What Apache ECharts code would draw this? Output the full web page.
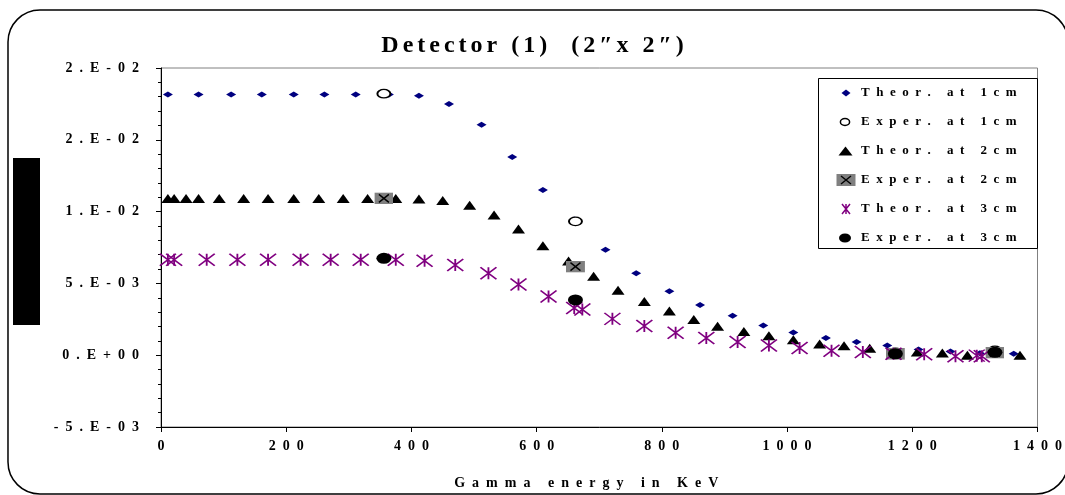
<!DOCTYPE html>
<html>
<head>
<meta charset="utf-8">
<script src="https://cdn.jsdelivr.net/npm/echarts@6/dist/echarts.min.js"></script>
<style>
html,body{margin:0;padding:0;background:#fff;}
#chart{width:1065px;height:495px;}
</style>
</head>
<body>
<div id="chart"></div>
<script>
// ---- data ----
const xTickLabels = ['0','200','400','600','800','1000','1200','1400'];
const yTickLabels = ['-5.E-03','0.E+00','5.E-03','1.E-02','2.E-02','2.E-02'];

const energyTheor1 = [11,60,112,161,212,261,311,364,412,460,512,561,610,660,710,759,812,861,913,962,1010,1062,1111,1160,1210,1261,1308,1362];
const theor1 = [0.01816,0.01816,0.01816,0.01816,0.01816,0.01816,0.01816,0.01816,0.01807,0.01749,0.01604,0.01380,0.01151,0.00945,0.00735,0.00571,0.00446,0.00349,0.00274,0.00207,0.00158,0.00119,0.00092,0.00068,0.00040,0.00026,0.00014,0.00010];

const energyTheor2 = [11,21,40,60,93,132,171,212,252,291,330,375,412,450,493,532,571,610,651,691,730,772,812,851,889,931,971,1010,1052,1091,1132,1208,1248,1288,1372];
const theor2 = [0.01092,0.01092,0.01092,0.01092,0.01092,0.01092,0.01092,0.01092,0.01092,0.01092,0.01092,0.01092,0.01087,0.01078,0.01045,0.00976,0.00878,0.00762,0.00656,0.00550,0.00453,0.00374,0.00307,0.00249,0.00201,0.00165,0.00135,0.00108,0.00078,0.00066,0.00049,0.00022,0.00015,0.00000,0.00000];

const energyTheor3 = [11,21,73,122,171,223,271,319,375,421,470,523,571,619,660,673,721,772,822,871,921,971,1020,1071,1121,1170,1219,1269,1303,1311];
const theor3 = [0.00665,0.00665,0.00665,0.00665,0.00665,0.00665,0.00665,0.00665,0.00665,0.00658,0.00628,0.00571,0.00492,0.00408,0.00328,0.00318,0.00253,0.00203,0.00156,0.00119,0.00092,0.00068,0.00050,0.00031,0.00022,0.00010,0.00006,-0.00008,-0.00003,-0.00007];

const energyExper = [356,662,1173,1332];
const exper1 = [0.01821,0.00932,0.00020,0.00033];
const exper2 = [0.01092,0.00617,0.00010,0.00018];
const exper3 = [0.00675,0.00385,0.00010,0.00020];

const seriesNames = ['Theor. at 1cm','Exper. at 1cm','Theor. at 2cm','Exper. at 2cm','Theor. at 3cm','Exper. at 3cm'];
const titleText = 'Detector (1)  (2\u2033x 2\u2033)';
const xAxisTitle = 'Gamma energy in KeV';

// ---- helpers ----
const pairs = (xs, ys) => xs.map((x, i) => [x, ys[i]]);
const spaced = (s, gap) => s.split('').join(gap || '\u2002');
const svg = s => 'image://data:image/svg+xml;charset=utf-8,' + encodeURIComponent(s);
const NS = "xmlns='http://www.w3.org/2000/svg'";

const xBoxSymbol = svg(`<svg ${NS} width='19' height='12' viewBox='0 0 19 12'><rect x='0' y='0' width='19' height='12' fill='#808080'/><path d='M4.5 2L14.5 10M14.5 2L4.5 10' stroke='#000' stroke-width='1.4' fill='none'/></svg>`);
const asteriskPath = 'path://M0,0L16,12M16,0L0,12M8,0L8,12';

const legendIcons = [
  svg(`<svg ${NS} width='20' height='12' viewBox='0 0 20 12'><polygon points='5.5,6 10,2.5 14.5,6 10,9.5' fill='#000080'/></svg>`),
  svg(`<svg ${NS} width='20' height='12' viewBox='0 0 20 12'><ellipse cx='9' cy='6' rx='4.6' ry='3.4' fill='#fff' stroke='#000' stroke-width='1.5'/></svg>`),
  svg(`<svg ${NS} width='20' height='12' viewBox='0 0 20 12'><polygon points='2.5,10.5 9.5,1.5 16.5,10.5' fill='#000'/></svg>`),
  svg(`<svg ${NS} width='20' height='12' viewBox='0 0 20 12'><rect x='0.5' y='0' width='19' height='12' fill='#808080'/><path d='M5 2L15 10M15 2L5 10' stroke='#000' stroke-width='1.4' fill='none'/></svg>`),
  svg(`<svg ${NS} width='20' height='12' viewBox='0 0 20 12'><path d='M6 1L14 11M14 1L6 11M10 1L10 11' stroke='#800080' stroke-width='1.5' fill='none'/></svg>`),
  svg(`<svg ${NS} width='20' height='12' viewBox='0 0 20 12'><ellipse cx='9' cy='6' rx='6' ry='4.5' fill='#000'/></svg>`)
];

const FONT = "'Liberation Serif','Times New Roman',serif";

const chart = echarts.init(document.getElementById('chart'), null, {renderer: 'canvas'});
chart.setOption({
  animation: false,
  backgroundColor: '#fff',
  title: {
    text: spaced(titleText, '\u2006'),
    left: 'center',
    top: 29,
    textStyle: {fontFamily: FONT, fontWeight: 'bold', fontSize: 24, color: '#000'}
  },
  grid: {
    left: 161, top: 68, width: 885, height: 361,
    show: true, borderColor: '#808080', borderWidth: 1, backgroundColor: 'transparent'
  },
  xAxis: {
    type: 'value', min: 0, max: 1400, interval: 200,
    name: spaced(xAxisTitle), nameLocation: 'middle', nameGap: 49,
    nameTextStyle: {fontFamily: FONT, fontWeight: 'bold', fontSize: 14, color: '#000', padding: [0, 26, 0, 0]},
    axisLine: {onZero: false, lineStyle: {color: '#000', width: 1}},
    axisTick: {show: true, inside: false, length: 5, lineStyle: {color: '#000'}},
    axisLabel: {margin: 12, fontFamily: FONT, fontWeight: 'bold', fontSize: 14, color: '#000',
      formatter: v => spaced(xTickLabels[Math.round(v / 200)] || '')},
    splitLine: {show: false}
  },
  yAxis: {
    type: 'value', min: -0.005, max: 0.02, interval: 0.005,
    axisLine: {onZero: false, lineStyle: {color: '#000', width: 1}},
    axisTick: {show: true, inside: false, length: 5, lineStyle: {color: '#000'}},
    minorTick: {show: true, splitNumber: 5, length: 3, lineStyle: {color: '#000'}},
    axisLabel: {margin: 22, fontFamily: FONT, fontWeight: 'bold', fontSize: 14, color: '#000',
      formatter: v => spaced(yTickLabels[Math.round((v + 0.005) / 0.005)] || '')},
    splitLine: {show: false}
  },
  legend: {
    orient: 'vertical', left: 836, top: 86.5,
    itemWidth: 20, itemHeight: 12, itemGap: 16,
    padding: 0,
    data: seriesNames.map((n, i) => ({name: n, icon: legendIcons[i]})),
    formatter: n => spaced(n),
    textStyle: {fontFamily: FONT, fontWeight: 'bold', fontSize: 13, color: '#000', lineHeight: 12},
    selectedMode: false,
    z: 10
  },
  graphic: [
    {type: 'rect', z: -10, silent: true,
      shape: {x: 8, y: 10, width: 1060, height: 484, r: 32},
      style: {fill: 'none', stroke: '#000', lineWidth: 1.5}},
    {type: 'rect', z: 5, silent: true,
      shape: {x: 13, y: 158, width: 27, height: 167},
      style: {fill: '#000'}},
    {type: 'rect', z: 9, silent: true,
      shape: {x: 818.5, y: 78.5, width: 219, height: 170},
      style: {fill: '#fff', stroke: '#000', lineWidth: 1}}
  ],
  series: [
    {name: seriesNames[0], type: 'scatter', data: pairs(energyTheor1, theor1),
      symbol: 'diamond', symbolSize: [10, 6], itemStyle: {color: '#000080', opacity: 1}},
    {name: seriesNames[1], type: 'scatter', data: pairs(energyExper, exper1),
      symbol: 'circle', symbolSize: [13, 8.5], itemStyle: {color: '#fff', borderColor: '#000', borderWidth: 1.6, opacity: 1}},
    {name: seriesNames[2], type: 'scatter', data: pairs(energyTheor2, theor2),
      symbol: 'triangle', symbolSize: [13, 9], itemStyle: {color: '#000', opacity: 1}},
    {name: seriesNames[3], type: 'scatter', data: pairs(energyExper, exper2),
      symbol: xBoxSymbol, symbolSize: [19, 12], itemStyle: {opacity: 1}},
    {name: seriesNames[4], type: 'scatter', data: pairs(energyTheor3, theor3),
      symbol: asteriskPath, symbolSize: [16, 12], itemStyle: {color: 'rgba(0,0,0,0)', borderColor: '#800080', borderWidth: 1.6, opacity: 1}},
    {name: seriesNames[5], type: 'scatter', data: pairs(energyExper, exper3),
      symbol: 'circle', symbolSize: [15, 11], itemStyle: {color: '#000', opacity: 1}}
  ]
});
</script>
</body>
</html>
